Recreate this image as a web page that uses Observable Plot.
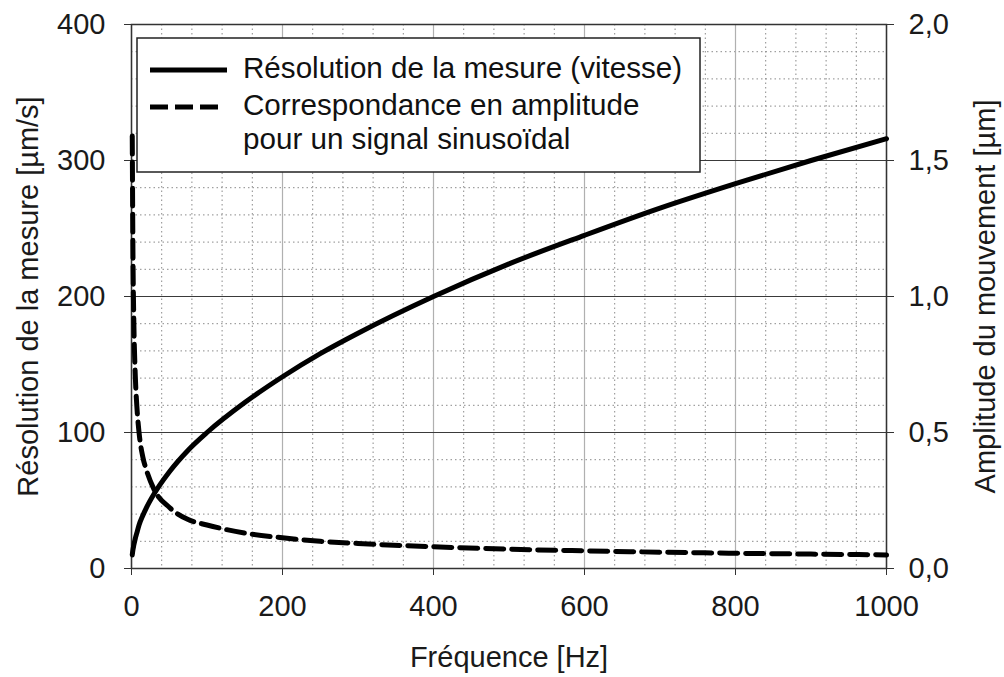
<!DOCTYPE html>
<html>
<head>
<meta charset="utf-8">
<script src="https://cdn.jsdelivr.net/npm/d3@7"></script>
<script src="https://cdn.jsdelivr.net/npm/@observablehq/plot@0.6"></script>
<style>
  body { margin: 0; background: #fff; }
  svg { font-family: "Liberation Sans", Arial, sans-serif; }
  svg text { font-size: 29px; }
  svg g.legend text { font-size: 29.6px; }
</style>
</head>
<body>
<div id="chart"></div>
<script>
// Frequency samples [Hz]
const freq = [1, 2, 3, 5, 7, 10, 15, 20, 30, 50, 75, 100, 150, 200, 250, 300, 400, 500, 600, 700, 800, 900, 1000];
// Measurement resolution (velocity) [µm/s]
const resolution = [10, 14, 17, 22, 26, 32, 39, 45, 55, 71, 87, 100, 122, 141, 158, 173, 200, 224, 245, 265, 283, 300, 316];
// Corresponding amplitude for a sinusoidal signal [µm]
const amplitude = [1.59, 1.13, 0.92, 0.71, 0.60, 0.50, 0.41, 0.36, 0.29, 0.225, 0.18, 0.16, 0.13, 0.113, 0.10, 0.092, 0.08, 0.071, 0.065, 0.06, 0.056, 0.053, 0.05];

const xTicks = [0, 200, 400, 600, 800, 1000];
const yLeftTicks = [0, 100, 200, 300, 400];
const yRightLabels = ["0,0", "0,5", "1,0", "1,5", "2,0"];
const legendLabels = ["Résolution de la mesure (vitesse)", "Correspondance en amplitude", "pour un signal sinusoïdal"];
const xTitle = "Fréquence [Hz]";
const yLeftTitle = "Résolution de la mesure [µm/s]";
const yRightTitle = "Amplitude du mouvement [µm]";

const ampMax = 2.0, resMax = 400;
const rows = freq.map((f, i) => ({f, res: resolution[i], amp: amplitude[i]}));

const xMinor = d3.range(0, 1001, 40);
const yMinor = d3.range(0, 401, 20);

const plot = Plot.plot({
  width: 1004,
  height: 677,
  marginLeft: 131,
  marginRight: 118,
  marginTop: 24,
  marginBottom: 109,
  style: {fontFamily: '"Liberation Sans", Arial, sans-serif', fontSize: "29px", color: "#1a1a1a", background: "#fff"},
  x: {domain: [0, 1000]},
  y: {domain: [0, resMax]},
  marks: [
    Plot.gridX(xMinor, {stroke: "#8a8a8a", strokeOpacity: 1, strokeWidth: 1, strokeDasharray: "1.5,3"}),
    Plot.gridY(yMinor, {stroke: "#8a8a8a", strokeOpacity: 1, strokeWidth: 1, strokeDasharray: "1.5,3"}),
    Plot.gridX(xTicks, {stroke: "#b0b0b0", strokeOpacity: 1, strokeWidth: 1.2}),
    Plot.gridY(yLeftTicks, {stroke: "#3a3a3a", strokeOpacity: 1, strokeWidth: 1.2}),
    Plot.frame({stroke: "#333", strokeWidth: 1.5}),
    Plot.axisX(xTicks, {tickSize: 7, tickPadding: 20, tickFormat: d => String(d), label: xTitle, labelAnchor: "center", labelArrow: "none", labelOffset: 98, stroke: "#333"}),
    Plot.axisY(yLeftTicks, {anchor: "left", tickSize: 7, tickPadding: 19, label: yLeftTitle, labelAnchor: "center", labelArrow: "none", labelOffset: 114, stroke: "#333"}),
    Plot.axisY(yLeftTicks, {anchor: "right", tickSize: 7, tickPadding: 15, tickFormat: (d, i) => yRightLabels[i], label: yRightTitle, labelAnchor: "center", labelArrow: "none", labelOffset: 108, stroke: "#333"}),
    Plot.line(rows, {x: "f", y: "res", stroke: "#000", strokeWidth: 5, curve: "monotone-x"}),
    Plot.line(rows, {x: "f", y: d => d.amp * resMax / ampMax, stroke: "#000", strokeWidth: 5, strokeDasharray: "18,8", curve: "monotone-x"})
  ]
});

// Legend box inside the plot area (layout only)
const svg = d3.select(plot);
const g = svg.append("g").attr("class", "legend").attr("fill", "#111").attr("text-anchor", "start");
g.append("rect").attr("x", 137).attr("y", 38).attr("width", 563).attr("height", 134)
  .attr("fill", "#fff").attr("stroke", "#222").attr("stroke-width", 1.5);
g.append("line").attr("x1", 150).attr("x2", 227).attr("y1", 70).attr("y2", 70)
  .attr("stroke", "#000").attr("stroke-width", 5);
g.append("line").attr("x1", 150).attr("x2", 218).attr("y1", 107).attr("y2", 107)
  .attr("stroke", "#000").attr("stroke-width", 5).attr("stroke-dasharray", "18,7");
g.append("text").attr("x", 243).attr("y", 78).text(legendLabels[0]);
g.append("text").attr("x", 243).attr("y", 115).text(legendLabels[1]);
g.append("text").attr("x", 243).attr("y", 149).text(legendLabels[2]);

document.getElementById("chart").appendChild(plot);
</script>
</body>
</html>
